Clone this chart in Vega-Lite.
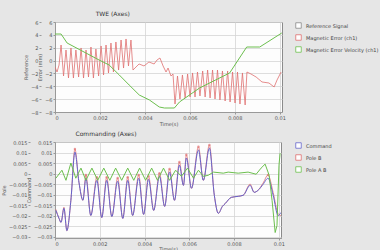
{
  "$schema": "https://vega.github.io/schema/vega-lite/v6.json",
  "background": "#e6e6e6",
  "padding": {"left": 0, "top": 10, "right": 0, "bottom": 0},
  "config": {
    "font": "DejaVu Sans",
    "view": {"fill": "#fdfdfd", "stroke": "#8a8a8a"},
    "axis": {"labelFontSize": 5, "labelColor": "#555", "titleFontSize": 5, "titleColor": "#555", "titleFontWeight": "normal", "gridColor": "#d4d4d4", "gridWidth": 0.8, "domainColor": "#999", "tickColor": "#999", "tickSize": 2, "labelPadding": 1, "titlePadding": 2, "labelOverlap": false, "labelBound": false},
    "title": {"fontSize": 6, "fontWeight": "normal", "color": "#333"},
    "legend": {"labelFontSize": 5, "labelColor": "#444", "symbolSize": 30, "rowPadding": 3, "labelLimit": 90}
  },
  "datasets": {
    "topRed": [
      {"t": 0, "v": -1.0}, {"t": 0.00009, "v": -1.78}, {"t": 0.00018, "v": -0.69}, {"t": 0.00027, "v": 2.42},
      {"t": 0.00038, "v": -2.40}, {"t": 0.00049, "v": 1.64}, {"t": 0.00060, "v": -2.71}, {"t": 0.00071, "v": 1.96},
      {"t": 0.00082, "v": -2.71}, {"t": 0.00093, "v": 1.64}, {"t": 0.00105, "v": -2.56}, {"t": 0.00116, "v": 1.96},
      {"t": 0.00127, "v": -2.71}, {"t": 0.00138, "v": 1.64}, {"t": 0.00149, "v": -2.56}, {"t": 0.00160, "v": 2.11},
      {"t": 0.00171, "v": -2.71}, {"t": 0.00182, "v": 1.80}, {"t": 0.00194, "v": -2.40}, {"t": 0.00205, "v": 2.27},
      {"t": 0.00216, "v": -2.24}, {"t": 0.00227, "v": 2.42}, {"t": 0.00238, "v": -1.93}, {"t": 0.00249, "v": 2.73},
      {"t": 0.00260, "v": -1.78}, {"t": 0.00271, "v": 2.89}, {"t": 0.00283, "v": -1.47}, {"t": 0.00294, "v": 3.20},
      {"t": 0.00305, "v": -1.16}, {"t": 0.00316, "v": 3.36}, {"t": 0.00327, "v": -0.84}, {"t": 0.00338, "v": 3.20},
      {"t": 0.00347, "v": -1.47}, {"t": 0.00356, "v": -1.16}, {"t": 0.00374, "v": -0.53}, {"t": 0.00396, "v": -0.84},
      {"t": 0.00418, "v": -0.22}, {"t": 0.00441, "v": -0.53}, {"t": 0.00454, "v": 0.09}, {"t": 0.00467, "v": 0.40},
      {"t": 0.00481, "v": -0.84}, {"t": 0.00494, "v": -1.78}, {"t": 0.00503, "v": -1.16}, {"t": 0.00516, "v": -2.40},
      {"t": 0.00525, "v": -2.09}, {"t": 0.00534, "v": -6.76}, {"t": 0.00545, "v": -2.40}, {"t": 0.00556, "v": -5.98},
      {"t": 0.00567, "v": -2.24}, {"t": 0.00579, "v": -5.82}, {"t": 0.00590, "v": -2.09}, {"t": 0.00601, "v": -5.67},
      {"t": 0.00612, "v": -1.93}, {"t": 0.00623, "v": -5.67}, {"t": 0.00634, "v": -1.78}, {"t": 0.00645, "v": -5.51},
      {"t": 0.00657, "v": -1.62}, {"t": 0.00668, "v": -5.67}, {"t": 0.00679, "v": -1.47}, {"t": 0.00690, "v": -5.82},
      {"t": 0.00701, "v": -1.47}, {"t": 0.00712, "v": -5.98}, {"t": 0.00723, "v": -1.47}, {"t": 0.00734, "v": -6.13},
      {"t": 0.00745, "v": -1.62}, {"t": 0.00757, "v": -6.29}, {"t": 0.00768, "v": -1.62}, {"t": 0.00779, "v": -6.44},
      {"t": 0.00790, "v": -1.78}, {"t": 0.00801, "v": -6.60}, {"t": 0.00812, "v": -1.78}, {"t": 0.00823, "v": -6.76},
      {"t": 0.00834, "v": -1.93}, {"t": 0.00846, "v": -6.91}, {"t": 0.00854, "v": -1.78}, {"t": 0.00872, "v": -2.09},
      {"t": 0.00895, "v": -2.56}, {"t": 0.00921, "v": -3.33}, {"t": 0.00952, "v": -3.49}, {"t": 0.00975, "v": -4.11},
      {"t": 0.00988, "v": -3.02}, {"t": 0.01006, "v": -1.78}
    ],
    "topGreen": [
      {"t": 0, "v": 4.13}, {"t": 0.00027, "v": 4.13}, {"t": 0.00054, "v": 2.73}, {"t": 0.00196, "v": 0.09},
      {"t": 0.00241, "v": -0.69}, {"t": 0.00286, "v": -2.24}, {"t": 0.00330, "v": -3.80}, {"t": 0.00375, "v": -5.36},
      {"t": 0.00420, "v": -6.13}, {"t": 0.00464, "v": -7.22}, {"t": 0.00487, "v": -7.38}, {"t": 0.00531, "v": -7.38},
      {"t": 0.00554, "v": -6.44}, {"t": 0.00643, "v": -4.27}, {"t": 0.00777, "v": -1.93}, {"t": 0.00853, "v": 2.11},
      {"t": 0.00911, "v": 2.11}, {"t": 0.01009, "v": 4.29}
    ],
    "botBlue": [
      {"t": 0.00004, "v": -0.0175}, {"t": 0.00018, "v": -0.0213}, {"t": 0.00027, "v": -0.0232}, {"t": 0.00040, "v": -0.0165},
      {"t": 0.00053, "v": -0.0271}, {"t": 0.00071, "v": -0.0127}, {"t": 0.00089, "v": 0.0102}, {"t": 0.00107, "v": -0.0041},
      {"t": 0.00125, "v": -0.0127}, {"t": 0.00138, "v": -0.0022}, {"t": 0.00160, "v": -0.0199}, {"t": 0.00187, "v": -0.0032},
      {"t": 0.00209, "v": -0.0209}, {"t": 0.00231, "v": -0.0032}, {"t": 0.00254, "v": -0.0204}, {"t": 0.00280, "v": -0.0036},
      {"t": 0.00303, "v": -0.0213}, {"t": 0.00325, "v": -0.0032}, {"t": 0.00347, "v": -0.0199}, {"t": 0.00374, "v": -0.0022},
      {"t": 0.00396, "v": -0.0194}, {"t": 0.00418, "v": -0.0027}, {"t": 0.00441, "v": -0.0175}, {"t": 0.00467, "v": -0.0013},
      {"t": 0.00490, "v": -0.0156}, {"t": 0.00512, "v": 0.0007}, {"t": 0.00534, "v": -0.0127}, {"t": 0.00556, "v": 0.0040},
      {"t": 0.00574, "v": -0.0056}, {"t": 0.00587, "v": 0.0074}, {"t": 0.00610, "v": -0.0070}, {"t": 0.00641, "v": 0.0112},
      {"t": 0.00663, "v": -0.0032}, {"t": 0.00690, "v": 0.0121}, {"t": 0.00712, "v": -0.0103}, {"t": 0.00730, "v": -0.0189},
      {"t": 0.00748, "v": -0.0156}, {"t": 0.00761, "v": -0.0142}, {"t": 0.00788, "v": -0.0113}, {"t": 0.00819, "v": -0.0108},
      {"t": 0.00841, "v": -0.0103}, {"t": 0.00872, "v": -0.0056}, {"t": 0.00890, "v": -0.0089}, {"t": 0.00908, "v": -0.0079},
      {"t": 0.00930, "v": -0.0051}, {"t": 0.00952, "v": -0.0022}, {"t": 0.00975, "v": -0.0103}, {"t": 0.00997, "v": -0.0199},
      {"t": 0.01010, "v": -0.0185}
    ],
    "botRed": [
      {"t": 0.00004, "v": -0.0170}, {"t": 0.00018, "v": -0.0213}, {"t": 0.00027, "v": -0.0232}, {"t": 0.00040, "v": -0.0160},
      {"t": 0.00053, "v": -0.0271}, {"t": 0.00071, "v": -0.0127}, {"t": 0.00089, "v": 0.0117}, {"t": 0.00107, "v": -0.0041},
      {"t": 0.00125, "v": -0.0127}, {"t": 0.00138, "v": -0.0007}, {"t": 0.00160, "v": -0.0199}, {"t": 0.00187, "v": -0.0017},
      {"t": 0.00209, "v": -0.0209}, {"t": 0.00231, "v": -0.0017}, {"t": 0.00254, "v": -0.0204}, {"t": 0.00280, "v": -0.0021},
      {"t": 0.00303, "v": -0.0213}, {"t": 0.00325, "v": -0.0017}, {"t": 0.00347, "v": -0.0199}, {"t": 0.00374, "v": -0.0007},
      {"t": 0.00396, "v": -0.0194}, {"t": 0.00418, "v": -0.0012}, {"t": 0.00441, "v": -0.0175}, {"t": 0.00467, "v": 0.0002},
      {"t": 0.00490, "v": -0.0156}, {"t": 0.00512, "v": 0.0022}, {"t": 0.00534, "v": -0.0127}, {"t": 0.00556, "v": 0.0055},
      {"t": 0.00574, "v": -0.0056}, {"t": 0.00587, "v": 0.0089}, {"t": 0.00610, "v": -0.0070}, {"t": 0.00641, "v": 0.0127},
      {"t": 0.00663, "v": -0.0032}, {"t": 0.00690, "v": 0.0136}, {"t": 0.00712, "v": -0.0103}, {"t": 0.00730, "v": -0.0189},
      {"t": 0.00748, "v": -0.0156}, {"t": 0.00761, "v": -0.0142}, {"t": 0.00788, "v": -0.0113}, {"t": 0.00819, "v": -0.0108},
      {"t": 0.00841, "v": -0.0103}, {"t": 0.00872, "v": -0.0050}, {"t": 0.00890, "v": -0.0089}, {"t": 0.00908, "v": -0.0079},
      {"t": 0.00930, "v": -0.0045}, {"t": 0.00952, "v": -0.0007}, {"t": 0.00975, "v": -0.0090}, {"t": 0.00997, "v": -0.0190},
      {"t": 0.01010, "v": -0.0200}
    ],
    "botPeaks": [
      {"t": 0.00089, "v": 0.0117}, {"t": 0.00138, "v": -0.0007}, {"t": 0.00187, "v": -0.0017}, {"t": 0.00231, "v": -0.0017},
      {"t": 0.00280, "v": -0.0021}, {"t": 0.00325, "v": -0.0017}, {"t": 0.00374, "v": -0.0007}, {"t": 0.00418, "v": -0.0012},
      {"t": 0.00467, "v": 0.0002}, {"t": 0.00512, "v": 0.0022}, {"t": 0.00556, "v": 0.0055}, {"t": 0.00587, "v": 0.0089},
      {"t": 0.00641, "v": 0.0127}, {"t": 0.00690, "v": 0.0136}, {"t": 0.00952, "v": -0.0007}
    ],
    "botGreen": [
      {"t": 0.00004, "v": -0.0022}, {"t": 0.00031, "v": 0.0016}, {"t": 0.00049, "v": -0.0032}, {"t": 0.00071, "v": 0.0050},
      {"t": 0.00093, "v": -0.0022}, {"t": 0.00116, "v": 0.0026}, {"t": 0.00138, "v": -0.0032}, {"t": 0.00165, "v": 0.0026},
      {"t": 0.00191, "v": -0.0032}, {"t": 0.00218, "v": 0.0026}, {"t": 0.00245, "v": -0.0032}, {"t": 0.00271, "v": 0.0026},
      {"t": 0.00298, "v": -0.0032}, {"t": 0.00325, "v": 0.0026}, {"t": 0.00352, "v": -0.0032}, {"t": 0.00378, "v": 0.0026},
      {"t": 0.00405, "v": -0.0032}, {"t": 0.00432, "v": 0.0026}, {"t": 0.00458, "v": -0.0032}, {"t": 0.00485, "v": 0.0026},
      {"t": 0.00512, "v": -0.0032}, {"t": 0.00539, "v": 0.0016}, {"t": 0.00565, "v": -0.0013}, {"t": 0.00592, "v": 0.0026},
      {"t": 0.00619, "v": -0.0022}, {"t": 0.00641, "v": 0.0016}, {"t": 0.00663, "v": -0.0013}, {"t": 0.00685, "v": -0.0008},
      {"t": 0.00708, "v": 0.0007}, {"t": 0.00752, "v": 0.0002}, {"t": 0.00774, "v": 0.0007}, {"t": 0.00819, "v": 0.0002},
      {"t": 0.00863, "v": 0.0007}, {"t": 0.00899, "v": -0.0003}, {"t": 0.00921, "v": 0.0026}, {"t": 0.00939, "v": 0.0045},
      {"t": 0.00957, "v": -0.0008}, {"t": 0.00970, "v": -0.0127}, {"t": 0.00984, "v": -0.0280}, {"t": 0.00992, "v": -0.0247},
      {"t": 0.01001, "v": 0.0040}, {"t": 0.01006, "v": 0.0097}
    ]
  },
  "spacing": 30,
  "bounds": "flush",
  "resolve": {"scale": {"color": "independent"}, "legend": {"color": "independent"}},
  "vconcat": [
    {
      "width": 227, "height": 90,
      "title": {"text": "TWE (Axes)", "anchor": "start", "dx": 72, "offset": 3},
      "resolve": {"scale": {"y": "independent"}},
      "layer": [
        {
          "data": {"name": "topRed"},
          "mark": {"type": "line", "strokeWidth": 0.8, "clip": true},
          "encoding": {
            "x": {"field": "t", "type": "quantitative", "scale": {"domain": [0, 0.0101], "nice": false},
                  "axis": {"title": "Time(s)", "titlePadding": 1, "values": [0, 0.001, 0.002, 0.003, 0.004, 0.005, 0.006, 0.007, 0.008, 0.009, 0.01], "format": ".3~f", "grid": true}},
            "y": {"field": "v", "type": "quantitative", "scale": {"domain": [-8, 6], "nice": false},
                  "axis": {"title": "Error (mm)", "orient": "left", "values": [-8, -6, -4, -2, 0, 2, 4, 6], "grid": true}},
            "color": {"datum": "Magnetic Error (ch1)", "type": "nominal",
                      "scale": {"domain": ["Reference Signal", "Magnetic Error (ch1)", "Magnetic Error Velocity (ch1)"], "range": ["#888888", "#e07070", "#6cbf4e"]},
                      "legend": {"title": null, "orient": "none", "legendX": 240, "legendY": 0, "symbolType": "square",
                                 "encode": {"symbols": {"update": {"fill": {"value": "#ffffff"}, "stroke": {"value": "#666666"}, "strokeWidth": {"value": 0.8}}}}}}
          }
        },
        {
          "data": {"name": "topGreen"},
          "mark": {"type": "line", "strokeWidth": 1, "clip": true},
          "encoding": {
            "x": {"field": "t", "type": "quantitative"},
            "y": {"field": "v", "type": "quantitative", "scale": {"domain": [-8, 6], "nice": false},
                  "axis": {"title": "Reference", "orient": "left", "offset": 14, "values": [-8, -6, -4, -2, 0, 2, 4, 6], "grid": false, "domain": false}},
            "color": {"datum": "Magnetic Error Velocity (ch1)", "type": "nominal"}
          }
        }
      ]
    },
    {
      "width": 226, "height": 96,
      "title": {"text": "Commanding (Axes)", "anchor": "start", "dx": 74, "offset": 3},
      "resolve": {"scale": {"y": "independent"}},
      "layer": [
        {
          "encoding": {
            "x": {"field": "t", "type": "quantitative", "scale": {"domain": [0, 0.0101], "nice": false},
                  "axis": {"title": "Time(s)", "titlePadding": 0, "values": [0, 0.001, 0.002, 0.003, 0.004, 0.005, 0.006, 0.007, 0.008, 0.009, 0.01], "format": ".3~f", "grid": true}},
            "y": {"field": "v", "type": "quantitative", "scale": {"domain": [-0.0306, 0.015], "nice": false},
                  "axis": {"title": "Command", "orient": "left", "values": [-0.03, -0.025, -0.02, -0.015, -0.01, -0.005, 0, 0.005, 0.01, 0.015], "format": ".3~f", "grid": true}}
          },
          "layer": [
            {
              "data": {"name": "botRed"},
              "mark": {"type": "line", "strokeWidth": 0.8, "interpolate": "monotone", "clip": true},
              "encoding": {
                "color": {"datum": "Pole B", "type": "nominal",
                          "scale": {"domain": ["Command", "Pole B", "Pole A B"], "range": ["#6464cc", "#e07070", "#6cbf4e"]},
                          "legend": {"title": null, "orient": "none", "legendX": 240, "legendY": 0, "symbolType": "square",
                                     "encode": {"symbols": {"update": {"fill": {"value": "#ffffff"}, "stroke": {"value": "#666666"}, "strokeWidth": {"value": 0.8}}}}}}
              }
            },
            {
              "data": {"name": "botBlue"},
              "mark": {"type": "line", "strokeWidth": 1, "interpolate": "monotone", "clip": true},
              "encoding": {
                "color": {"datum": "Command", "type": "nominal"}
              }
            },
            {
              "data": {"name": "botPeaks"},
              "mark": {"type": "point", "filled": true, "size": 6, "color": "#e07070", "clip": true},
              "encoding": {}
            }
          ]
        },
        {
          "data": {"name": "botGreen"},
          "mark": {"type": "line", "strokeWidth": 1, "clip": true},
          "encoding": {
            "x": {"field": "t", "type": "quantitative"},
            "y": {"field": "v", "type": "quantitative", "scale": {"domain": [-0.0306, 0.015], "nice": false},
                  "axis": {"title": "Pole", "orient": "left", "offset": 25, "values": [-0.03, -0.025, -0.02, -0.015, -0.01, -0.005, 0, 0.005, 0.01, 0.015], "format": ".3~f", "grid": false, "domain": false}},
            "color": {"datum": "Pole A B", "type": "nominal"}
          }
        }
      ]
    }
  ]
}
